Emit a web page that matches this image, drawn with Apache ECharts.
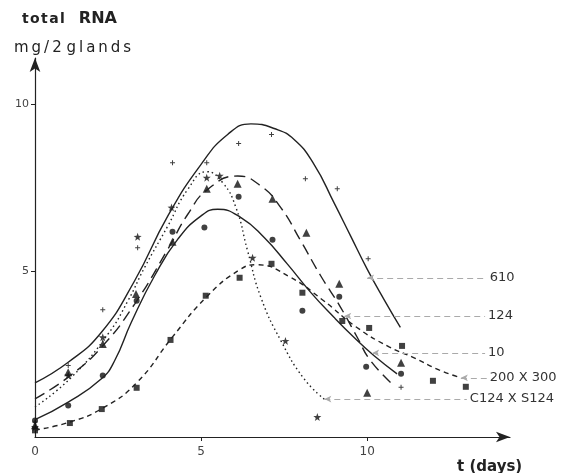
<!DOCTYPE html>
<html>
<head>
<meta charset="utf-8">
<script src="https://cdn.jsdelivr.net/npm/echarts@6/dist/echarts.min.js"></script>
<style>
  html, body { margin: 0; padding: 0; background: #fff; }
  #chart { width: 563px; height: 473px; }
</style>
</head>
<body>
<div id="chart"></div>
<script>
// fitted curves: [t, RNA]
const curve610 = [[0,1.63],[1,2.25],[2,3.15],[3,4.7],[4,6.65],[5,8.2],[5.8,9.1],[6.5,9.42],[7.2,9.28],[7.8,8.95],[8.4,8.2],[9,7.05],[9.5,6.05],[10,5.05],[10.5,4.15],[11,3.3]]
const curve124 = [[0,1.15],[1,1.8],[2,2.7],[3,4.0],[4,5.65],[4.6,6.7],[5.2,7.45],[6.1,7.85],[6.8,7.55],[7.4,6.9],[8,5.9],[8.6,4.85],[9.2,3.9],[9.7,3.0],[10.1,2.3],[10.8,1.55]]
const curve10 = [[0,0.52],[1,1.05],[2,1.75],[2.4,2.3],[2.9,3.45],[3.6,4.85],[4.3,5.95],[5,6.65],[5.5,6.85],[6.2,6.6],[6.9,6.0],[7.6,5.2],[8.3,4.35],[9,3.6],[9.6,3.0],[10.2,2.45],[10.9,1.9]]
const curve200 = [[0,0.21],[1.05,0.45],[2.04,0.87],[3.06,1.63],[4.14,3.01],[5.17,4.22],[6.16,5.03],[6.67,5.18],[7.66,4.82],[8.65,4.13],[9.67,3.31],[10.66,2.71],[11.35,2.41],[12.16,2.02],[12.82,1.78]]
const curveC124 = [[0,0.9],[1.1,1.8],[2.2,3.1],[2.8,4.1],[3.3,5.1],[4,6.35],[4.6,7.45],[5.17,7.98],[5.65,7.65],[6.05,6.9],[6.4,5.6],[6.8,4.2],[7.4,2.9],[8.1,1.75],[8.71,1.14]]

// measured points
const pts610 = [[0,0.45],[1,2.15],[2.04,3.83],[3.09,5.69],[4.14,8.25],[5.17,8.25],[6.13,8.83],[7.12,9.1],[8.14,7.77],[9.1,7.47],[10.03,5.36],[11.02,1.5]]
const pts124 = [[0,0.35],[1,1.95],[2.04,2.8],[3.04,4.3],[4.14,5.87],[5.17,7.47],[6.1,7.62],[7.15,7.17],[8.17,6.14],[9.16,4.61],[10,1.33],[11.02,2.23]]
const pts10 = [[0,0.5],[1,0.95],[2.04,1.85],[3.06,4.1],[4.14,6.17],[5.1,6.3],[6.13,7.23],[7.15,5.93],[8.05,3.8],[9.16,4.22],[9.97,2.11],[11.02,1.9]]
const pts200 = [[0,0.2],[1.05,0.42],[2.01,0.84],[3.06,1.48],[4.08,2.92],[5.14,4.25],[6.16,4.79],[7.12,5.21],[8.05,4.34],[9.25,3.49],[10.06,3.28],[11.05,2.74],[11.98,1.69],[12.97,1.51]]
const ptsC124 = [[0,0.3],[1,1.85],[2.04,3.0],[3.09,6.02],[4.11,6.9],[5.17,7.8],[5.56,7.86],[6.55,5.39],[7.54,2.89],[8.5,0.6]]

// curve labels: name, arrow tip on curve, where the leader ends
const labelNames = ['610', '124', '10', '200 X 300', 'C124 X S124']
const labelTips = [[10.0,4.79],[9.31,3.64],[10.15,2.53],[12.82,1.78],[8.71,1.14]]
const labelEnds = [13.6, 13.55, 13.55, 13.6, 13.0]

const xTicks = [0, 5, 10]
const yTicks = [5, 10]

const ink = '#222'
const font = 'DejaVu Sans'
const thin = '\u2009'
const hair = '\u200A'

const plusPath = 'path://M-1,-5H1V-1H5V1H1V5H-1V1H-5V-1H-1Z'
const starPath = 'path://M0,-10L2.4,-3.3L9.5,-3.1L3.8,1.2L5.9,8.1L0,4L-5.9,8.1L-3.8,1.2L-9.5,-3.1L-2.4,-3.3Z'

function spaced(s, gap) {
  return s.split('').join(gap)
}

function curveSeries(data, dash, idx) {
  return {
    type: 'line',
    data: data,
    smooth: 0.5,
    showSymbol: false,
    symbol: 'none',
    silent: true,
    lineStyle: { color: ink, width: 1.4, type: dash },
    markLine: {
      silent: true,
      symbol: ['arrow', 'none'],
      symbolSize: [5, 7],
      lineStyle: { color: '#aaa', width: 1, type: [6, 4] },
      label: {
        position: 'end',
        distance: 3,
        formatter: labelNames[idx],
        color: '#333',
        fontFamily: font,
        fontSize: 13
      },
      data: [[{ coord: labelTips[idx] }, { coord: [labelEnds[idx], labelTips[idx][1]] }]]
    }
  }
}

function pointSeries(data, symbol, size) {
  return {
    type: 'scatter',
    data: data,
    symbol: symbol,
    symbolSize: size,
    silent: true,
    itemStyle: { color: '#111' }
  }
}

const chart = echarts.init(document.getElementById('chart'))
chart.setOption({
  animation: false,
  backgroundColor: '#fff',
  title: [
    { text: '{a|' + spaced('total', hair) + '}{b|RNA}', left: 17, top: 6,
      textStyle: { rich: {
        a: { fontFamily: font, fontSize: 14, fontWeight: 'bold', color: '#222' },
        b: { fontFamily: font, fontSize: 16, fontWeight: 'bold', color: '#222', padding: [0, 0, 0, 14] } } } },
    { text: spaced('mg/', thin) + thin + '2' + ' ' + spaced('glands', thin), left: 9, top: 36,
      textStyle: { fontFamily: font, fontSize: 15, fontWeight: 'normal', color: '#222' } },
    { text: 't (days)', left: 452, top: 455,
      textStyle: { fontFamily: font, fontSize: 15, fontWeight: 'bold', color: '#222' } }
  ],
  grid: { left: 35, right: 53, top: 58, bottom: 36 },
  xAxis: {
    type: 'value', min: 0, max: 14.3,
    splitLine: { show: false },
    axisLine: { lineStyle: { color: ink, width: 1.2 }, symbol: ['none', 'arrow'], symbolSize: [8, 14] },
    axisTick: { show: true, length: 4, customValues: [5, 10], lineStyle: { color: ink } },
    axisLabel: { customValues: xTicks, color: '#444', fontFamily: font, fontSize: 12, margin: 9 }
  },
  yAxis: {
    type: 'value', min: 0, max: 11.4,
    splitLine: { show: false },
    axisLine: { show: true, lineStyle: { color: ink, width: 1.2 }, symbol: ['none', 'arrow'], symbolSize: [8, 14] },
    axisTick: { show: true, length: 4, customValues: yTicks, lineStyle: { color: ink } },
    axisLabel: { customValues: yTicks, color: '#444', fontFamily: font, fontSize: 11, margin: 6 }
  },
  series: [
    curveSeries(curve610, 'solid', 0),
    curveSeries(curve124, [11, 6], 1),
    curveSeries(curve10, 'solid', 2),
    curveSeries(curve200, [5, 4], 3),
    curveSeries(curveC124, [1.5, 3], 4),
    pointSeries(pts610, plusPath, 5),
    pointSeries(pts124, 'triangle', 8),
    pointSeries(pts10, 'circle', 6),
    pointSeries(pts200, 'rect', 6),
    pointSeries(ptsC124, starPath, 8)
  ]
})
</script>
</body>
</html>
